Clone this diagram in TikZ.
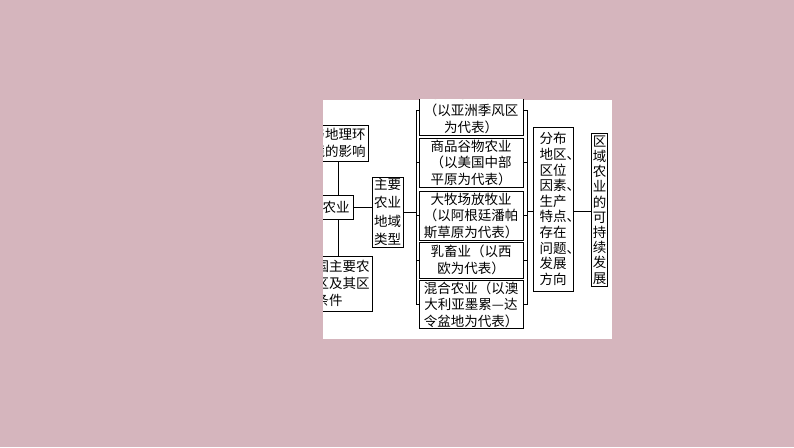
\documentclass[tikz,border=0pt]{standalone}
\usepackage{fontspec}
\newfontfamily\cjk{Noto Sans CJK SC}
\definecolor{bgpink}{RGB}{213,181,189}
\begin{document}
\begin{tikzpicture}[x=1pt,y=-1pt,
  box/.style={draw=black, line width=0.9pt, fill=white, inner xsep=3pt, inner ysep=1pt,
    align=center, font=\cjk\fontsize{13.5}{16.5}\selectfont},
  con/.style={draw=black, line width=0.9pt}]
\fill[bgpink] (0,0) rectangle (794,447);
\useasboundingbox (0,0) rectangle (794,447);
\fill[white] (323,99.5) rectangle (612,339);
\begin{scope}
\clip (323,99.5) rectangle (612,339);
% left column
\node[box, anchor=east, text width=54pt, align=left, minimum height=36pt,
  font=\cjk\fontsize{13.5}{17}\selectfont] (tl) at (369,143) {与地理环\\境的影响};
\node[box, anchor=east, text width=67.5pt, align=left, minimum height=55pt,
  font=\cjk\fontsize{13.5}{17}\selectfont] (bl) at (373,283.5) {中国主要农\\业区及其区\\位条件};
\coordinate (vx) at (338,200);
\draw[con] (tl.south -| vx) -- (bl.north -| vx);
\node[box, anchor=east, text width=34pt, align=right, minimum height=24pt, inner xsep=4pt] (ny) at (354,207) {农业};
% types box
\node[box, text width=27pt, inner xsep=2pt, minimum height=70pt,
  font=\cjk\fontsize{13.5}{18.3}\selectfont] (types) at (387.5,212) {主要\\农业\\地域\\类型};
\draw[con] (ny.east) -- (ny.east -| types.west);
% middle column
\node[box, text width=98pt, minimum height=50pt, font=\cjk\fontsize{13.5}{17}\selectfont] (b1) at (471,110) {季风水田农业\\（以亚洲季风区\\为代表）};
\node[box, text width=98pt, minimum height=49pt] (b2) at (471,162.5) {商品谷物农业\\（以美国中部\\平原为代表）};
\node[box, text width=98pt, minimum height=49pt] (b3) at (471,215.5) {大牧场放牧业\\（以阿根廷潘帕\\斯草原为代表）};
\node[box, text width=98pt, minimum height=36pt] (b4) at (471,260) {乳畜业（以西\\欧为代表）};
\node[box, text width=98pt, minimum height=47pt] (b5) at (471,304.5) {混合农业（以澳\\大利亚墨累—达\\令盆地为代表）};
% left bracket
\coordinate (lx) at (416,200);
\draw[con] (b1.west -| lx) -- (b5.west -| lx);
\foreach \b in {b1,b2,b3,b4,b5} \draw[con] (\b.west) -- (\b.west -| lx);
\draw[con] (types.east) -- (types.east -| lx);
% right bracket
\coordinate (rx) at (527,200);
\draw[con] (b1.east -| rx) -- (b5.east -| rx);
\foreach \b in {b1,b2,b3,b4,b5} \draw[con] (\b.east) -- (\b.east -| rx);
% right boxes
\node[box, text width=27pt, align=left, inner xsep=6.5pt, inner ysep=2pt, minimum height=164pt,
  font=\cjk\fontsize{13.5}{15.6}\selectfont] (dist) at (553,209)
  {分布\\地区、\\区位\\因素、\\生产\\特点、\\存在\\问题、\\发展\\方向};
\draw[con] (dist.west |- 0,211) -- (rx |- 0,211);
\node[box, text width=13.5pt, inner xsep=1.5pt, inner ysep=2pt, minimum height=152pt,
  font=\cjk\fontsize{13.5}{15.2}\selectfont] (sus) at (599.5,210)
  {区\\域\\农\\业\\的\\可\\持\\续\\发\\展};
\draw[con] (dist.east |- 0,211) -- (sus.west |- 0,211);
\end{scope}
\end{tikzpicture}
\end{document}
